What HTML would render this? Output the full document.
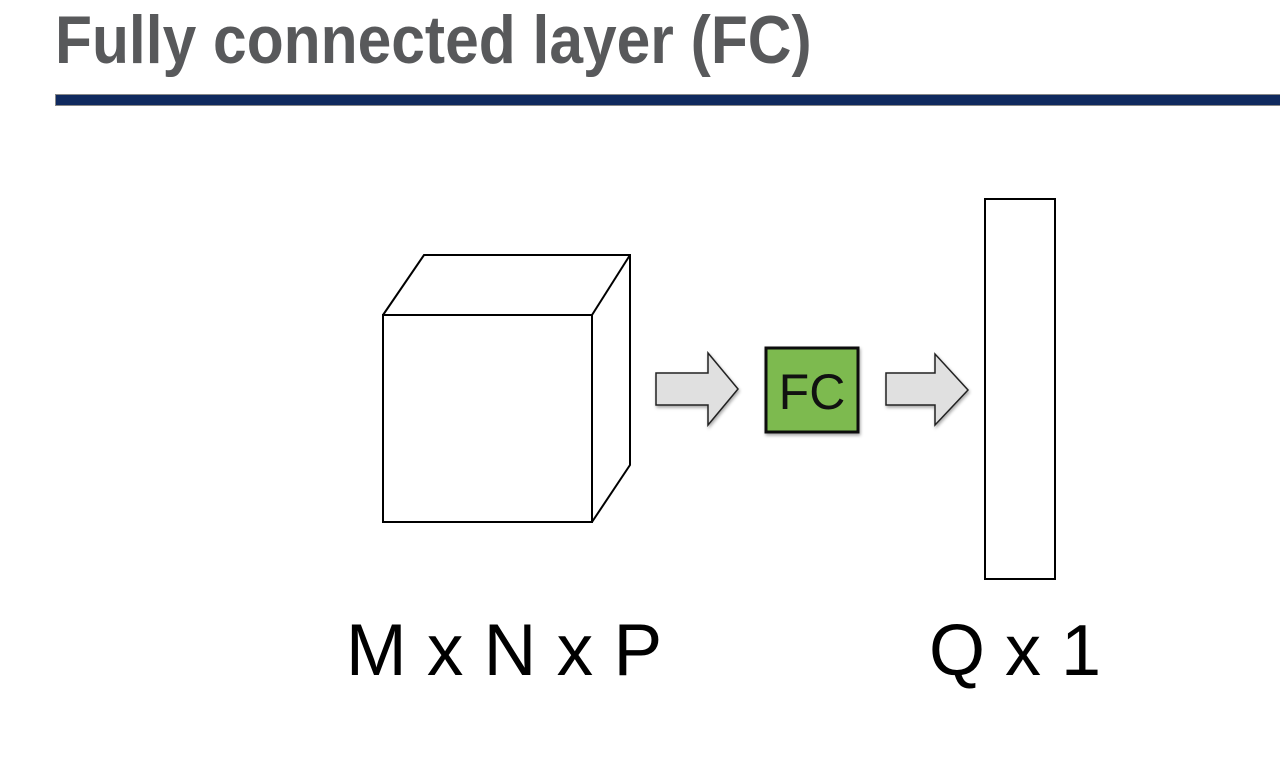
<!DOCTYPE html>
<html><head><style>
body{margin:0;width:1280px;height:762px;background:#fff;overflow:hidden;position:relative;font-family:"Liberation Sans",sans-serif}
.t{position:absolute;left:55px;top:0px;font-size:68px;line-height:80px;font-weight:bold;color:#58595b;white-space:nowrap;transform:scaleX(0.89);transform-origin:0 0}
.bar{position:absolute;left:55px;top:94px;width:1225px;height:10px;background:#102a5f;border-top:1px solid #888;border-bottom:1px solid #888;border-left:1px solid #888}
</style></head><body>
<div class="t">Fully connected layer (FC)</div>
<div class="bar"></div>
<svg width="1280" height="762" style="position:absolute;left:0;top:0">
<defs><filter id="s"><feDropShadow dx="1" dy="2" stdDeviation="1.5" flood-opacity="0.35"/></filter></defs>
<g fill="none" stroke="#000" stroke-width="2">
<rect x="383" y="315" width="209" height="207" fill="#fff"/>
<polyline points="383,315 424,255 630,255 630,465 592,522"/>
<line x1="592" y1="315" x2="630" y2="255"/>
<rect x="985" y="199" width="70" height="380"/>
</g>
<polygon points="656,373 708,373 708,353 738,389 708,425 708,405 656,405" fill="#e0e0e0" stroke="#222" stroke-width="1.5" filter="url(#s)"/>
<polygon points="886,373 935,373 935,354 968,390 935,425 935,405 886,405" fill="#e0e0e0" stroke="#222" stroke-width="1.5" filter="url(#s)"/>
<rect x="766" y="348" width="92" height="84" fill="#7dba50" stroke="#111" stroke-width="3" filter="url(#s)"/>
<text x="812" y="409" font-size="50" text-anchor="middle" font-family="Liberation Sans, sans-serif" fill="#111">FC</text>
<text x="504" y="675" font-size="73" text-anchor="middle" font-family="Liberation Sans, sans-serif" fill="#000">M x N x P</text>
<text x="1015" y="675" font-size="72" text-anchor="middle" font-family="Liberation Sans, sans-serif" fill="#000">Q x 1</text>
</svg>
</body></html>
